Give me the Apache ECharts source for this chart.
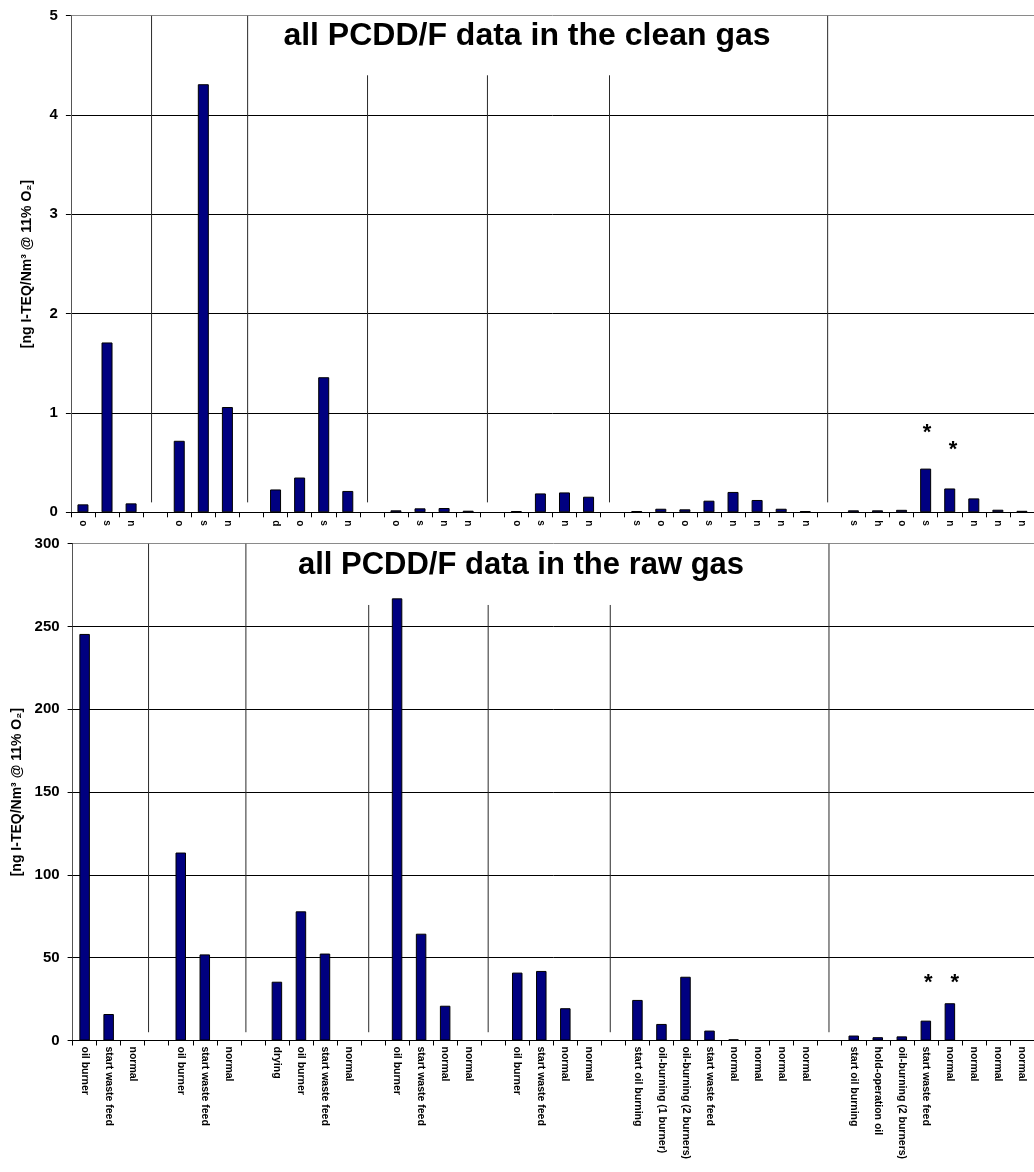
<!DOCTYPE html>
<html>
<head>
<meta charset="utf-8">
<script src="https://cdn.jsdelivr.net/npm/echarts@6/dist/echarts.min.js"></script>
<style>
html,body{margin:0;padding:0;background:#fff;}
#c{width:1034px;height:1172px;}
</style>
</head>
<body>
<div id="c"></div>
<script>
// ---- data ----
const categories = ['oil burner','start waste feed','normal','',
  'oil burner','start waste feed','normal','',
  'drying','oil burner','start waste feed','normal','',
  'oil burner','start waste feed','normal','normal','',
  'oil burner','start waste feed','normal','normal','',
  'start oil burning','oil-burning (1 burner)','oil-burning (2 burners)','start waste feed','normal','normal','normal','normal','',
  'start oil burning','hold-operation oil','oil-burning (2 burners)','start waste feed','normal','normal','normal','normal'];

const cleanGas = [0.08,1.71,0.09,null,
  0.72,4.31,1.06,null,
  0.23,0.35,1.36,0.215,null,
  0.02,0.04,0.043,0.016,null,
  0.013,0.19,0.20,0.157,null,
  0.013,0.036,0.03,0.117,0.205,0.124,0.036,0.013,null,
  0.02,0.02,0.025,0.44,0.24,0.14,0.026,0.015];

const rawGas = [245.5,16,null,null,
  113.5,52,null,null,
  35.5,78,52.5,null,null,
  267,64.5,21,null,null,
  41,42,19.5,null,null,
  24.5,10,38.5,6,0.7,null,null,null,null,
  3,2,2.5,12,22.5,null,null,null];

const cleanTicks = [0,1,2,3,4,5];
const rawTicks = [0,50,100,150,200,250,300];

// group separators (category units), their top values and bottom value
const cleanSepX = [3.35, 7.34, 12.32, 17.30, 22.37, 31.43];
const cleanSepTop = [5, 5, 4.4, 4.4, 4.4, 5];
const cleanSepBottom = 0.1;
const rawSepX = [3.16, 7.21, 12.32, 17.29, 22.37, 31.47];
const rawSepTop = [300, 300, 263, 263, 263, 300];
const rawSepBottom = 5;

// asterisk annotations [category position, value]
const cleanStars = [[35.56, 0.80], [36.64, 0.63]];
const rawStars = [[35.6, 35], [36.7, 35]];

const titles = ['all PCDD/F data in the clean gas', 'all PCDD/F data in the raw gas'];
const yName = '[ng I-TEQ/Nm³ @ 11% O₂]';

// ---- chart ----
const FONT = "'Liberation Sans', Arial, Helvetica, sans-serif";
const chart = echarts.init(document.getElementById('c'), null, {renderer:'canvas'});

const grids = [
  {left: 70.9, top: 15.7, width: 40*24.28, height: 496.6},
  {left: 72.6, top: 543.7, width: 40*24.2, height: 496.8}
];

function catAxis(gi, short){
  return {
    type:'category', gridIndex: gi, data: categories,
    axisLine:{show:true, lineStyle:{color:'#000', width:1}},
    axisTick:{show:true, interval:0, length:5, lineStyle:{color:'#000'}},
    axisLabel:{
      interval:0, rotate:-90, margin: short ? 8 : 6,
      fontFamily: FONT, fontWeight:'bold', fontSize: short ? 10 : 10.5, color:'#000',
      formatter: short ? (v => v ? v.charAt(0) : '') : (v => v)
    },
    splitLine:{show:false}
  };
}
function valXAxis(gi){
  return {type:'value', gridIndex: gi, min:0, max:40, show:false};
}
function valYAxis(gi, ticks){
  const n = ticks.length;
  const colors = ticks.map((t,i)=> i===n-1 ? '#8a8a8a' : '#000');
  return {
    type:'value', gridIndex: gi, min: ticks[0], max: ticks[n-1], interval: ticks[1]-ticks[0],
    name: yName, nameLocation:'middle', nameGap: 37, nameRotate: 90,
    nameTextStyle:{fontFamily:FONT, fontWeight:'bold', fontSize:14, color:'#000'},
    axisLine:{show:true, lineStyle:{color:'#555', width:1}},
    axisTick:{show:true, length:5, lineStyle:{color:'#000'}},
    axisLabel:{margin:13, fontFamily:FONT, fontWeight:'bold', fontSize:15, color:'#000'},
    splitLine:{show:true, lineStyle:{color: colors, width:1}}
  };
}

const series = [];
series.push({
  type:'bar', xAxisIndex:0, yAxisIndex:0, data: cleanGas, barWidth: 11,
  itemStyle:{color:'#000080', borderColor:'#000', borderWidth:1}, silent:true
});
series.push({
  type:'bar', xAxisIndex:1, yAxisIndex:1, data: rawGas, barWidth: 10.5,
  itemStyle:{color:'#000080', borderColor:'#000', borderWidth:1}, silent:true
});
function addSeps(xs, tops, bottom, xi, yi){
  xs.forEach((x,i)=>{
    series.push({
      type:'line', xAxisIndex: xi, yAxisIndex: yi, data: [[x, bottom],[x, tops[i]]],
      symbol:'none', silent:true, animation:false,
      lineStyle:{color:'#2a2a2a', width:1}
    });
  });
}
addSeps(cleanSepX, cleanSepTop, cleanSepBottom, 2, 0);
addSeps(rawSepX, rawSepTop, rawSepBottom, 3, 1);
function addStars(pts, xi, yi){
  series.push({
    type:'scatter', xAxisIndex: xi, yAxisIndex: yi, data: pts, symbol:'circle', symbolSize: 2,
    itemStyle:{color:'rgba(255,255,255,0)'}, silent:true, z: 10,
    label:{show:true, position:'inside', formatter:'*', fontFamily:FONT, fontWeight:'bold', fontSize:22, color:'#000', opacity:1}
  });
}
addStars(cleanStars, 2, 0);
addStars(rawStars, 3, 1);

chart.setOption({
  animation:false,
  backgroundColor:'#fff',
  grid: grids,
  xAxis: [catAxis(0, true), catAxis(1, false), valXAxis(0), valXAxis(1)],
  yAxis: [valYAxis(0, cleanTicks), valYAxis(1, rawTicks)],
  graphic: [
    {type:'text', x: 527, y: 36, silent:true, z:100,
     style:{text: titles[0], font:"bold 32px " + FONT, fill:'#000', textAlign:'center', textVerticalAlign:'middle'}},
    {type:'text', x: 521, y: 565, silent:true, z:100,
     style:{text: titles[1], font:"bold 31px " + FONT, fill:'#000', textAlign:'center', textVerticalAlign:'middle'}}
  ],
  series: series
});
</script>
</body>
</html>
